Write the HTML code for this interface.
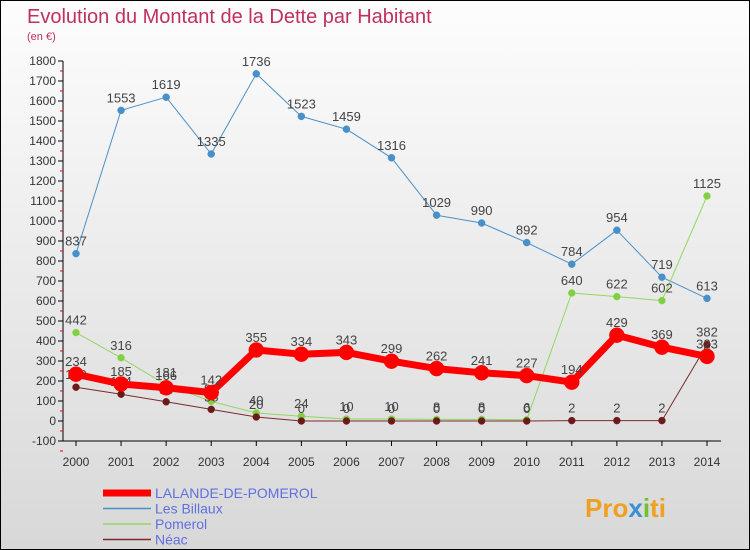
<!DOCTYPE html>
<html><head><meta charset="utf-8"><style>
body{margin:0;}
#c{width:750px;height:550px;position:relative;box-sizing:border-box;border:1px solid #000;background:linear-gradient(#fdfdfd,#d8d8d8);font-family:"Liberation Sans",sans-serif;overflow:hidden}
svg text{font-family:"Liberation Sans","DejaVu Sans",sans-serif}
</style></head><body>
<div id="c">
<svg id="s" width="750" height="550">
<text x="26" y="22" font-size="20" fill="#c0305f">Evolution du Montant de la Dette par Habitant</text>
<text x="26" y="39" font-size="11" fill="#c0305f">(en €)</text>
<g id="axes"></g><g id="series"></g><g id="legend"></g>
<text x="584" y="516" font-size="26" font-weight="bold" fill="#f0a020">Pro<tspan fill="#3a90d0">x</tspan><tspan fill="#70c030">i</tspan>ti</text>
</svg>
</div>
<script>
const years=[2000,2001,2002,2003,2004,2005,2006,2007,2008,2009,2010,2011,2012,2013,2014];
const lalande=[234,185,166,142,355,334,343,299,262,241,227,194,429,369,323];
const billaux=[837,1553,1619,1335,1736,1523,1459,1316,1029,990,892,784,954,719,613];
const pomerol=[442,316,181,98,40,24,10,10,8,8,6,640,622,602,1125];
const neac=[169,134,96,58,20,0,0,0,0,0,0,2,2,2,382];
const yTicks=[-100,0,100,200,300,400,500,600,700,800,900,1000,1100,1200,1300,1400,1500,1600,1700,1800];
const NS="http://www.w3.org/2000/svg";
const X=i=>75+i*(706-75)/(years.length-1);
const Y=v=>420-v*0.2;
function mk(t,a,p){const e=document.createElementNS(NS,t);for(const k in a)e.setAttribute(k,a[k]);p.appendChild(e);return e;}
const ax=document.getElementById('axes');
const yl=mk('line',{x1:62,y1:Y(1800),x2:62,y2:Y(-100),stroke:'#000'},ax);


const xl=mk('line',{x1:62,y1:440,x2:720,y2:440,stroke:'#000'},ax);


yTicks.forEach(v=>{
 mk('line',{x1:57,y1:Y(v),x2:62,y2:Y(v),stroke:'#000'},ax);
 mk('line',{x1:59,y1:Y(v)+10,x2:62,y2:Y(v)+10,stroke:'#e00'},ax);
 const t=mk('text',{x:55,y:Y(v)+4,'font-size':12,'text-anchor':'end',fill:'#333'},ax);t.textContent=v;
 
 
});
years.forEach((y,i)=>{
 mk('line',{x1:X(i),y1:440,x2:X(i),y2:445,stroke:'#000'},ax);
 const t=mk('text',{x:X(i),y:465,'font-size':12,'text-anchor':'middle',fill:'#333'},ax);t.textContent=y;
 
 
});
const sg=document.getElementById('series');
function series(data,name,col,dot,w,r){
 const g=mk('g',{},sg);
 
 
 mk('polyline',{points:data.map((v,i)=>X(i)+','+Y(v)).join(' '),fill:'none',stroke:col,'stroke-width':w,'stroke-linejoin':'round'},g);
 data.forEach((v,i)=>{
  const c=mk('circle',{cx:X(i),cy:Y(v),r:r,fill:dot,stroke:col,'stroke-width':0.5},g);
  
  
  const t=mk('text',{x:X(i),y:Y(v)-8,'font-size':13,'text-anchor':'middle',fill:'#444'},g);t.textContent=v;
  
  
 });
}
series(billaux,'les-billaux','#4a90c8','#4a90c8',1,3.5);
series(pomerol,'pomerol','#90d860','#80d040',1,3.5);
series(neac,'neac','#7a2a2a','#6a1a1a',1,3.5);
series(lalande,'lalande','#f00','#f00',7,7.5);
const lg=document.getElementById('legend');
[['LALANDE-DE-POMEROL','#f00',7],['Les Billaux','#4a90c8',1.5],['Pomerol','#90d860',1.5],['Néac','#7a2a2a',1.5]].forEach((e,i)=>{
 const y=492+i*15.5;
 const g=mk('g',{},lg);
 
 
 mk('line',{x1:102,y1:y,x2:150,y2:y,stroke:e[1],'stroke-width':e[2]},g);
 const t=mk('text',{x:154,y:y+5,'font-size':14,fill:'#6070e0'},g);t.textContent=e[0];
});
</script>
</body></html>
